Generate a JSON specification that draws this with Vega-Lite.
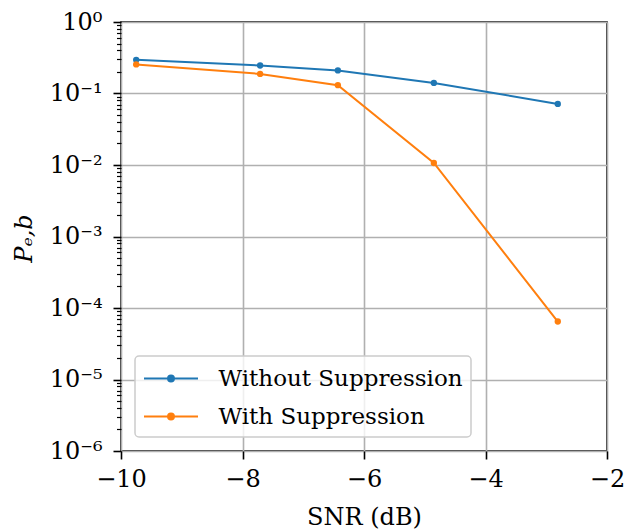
{
  "$schema": "https://vega.github.io/schema/vega-lite/v6.json",
  "width": 486,
  "height": 429,
  "autosize": "none",
  "padding": {"left": 121, "top": 22, "right": 18, "bottom": 80},
  "background": "white",
  "config": {
    "font": "DejaVu Serif",
    "view": {"stroke": "black", "strokeWidth": 1.6},
    "axis": {
      "domain": false,
      "labelFlush": false,
      "labelFont": "DejaVu Serif",
      "labelFontSize": 24,
      "labelColor": "black",
      "titleFont": "DejaVu Serif",
      "titleFontSize": 24,
      "titleFontWeight": "normal",
      "titleColor": "black",
      "gridColor": "#b0b0b0",
      "gridWidth": 1.6,
      "tickColor": "black",
      "tickWidth": 1.6,
      "tickSize": 8
    },
    "legend": {
      "labelFont": "DejaVu Serif",
      "labelFontSize": 23,
      "labelColor": "black",
      "labelLimit": 500
    }
  },
  "data": {
    "values": [
      {"snr": -9.75, "pe": 0.2956, "series": "Without Suppression"},
      {"snr": -7.71, "pe": 0.2466, "series": "Without Suppression"},
      {"snr": -6.43, "pe": 0.21, "series": "Without Suppression"},
      {"snr": -4.85, "pe": 0.1407, "series": "Without Suppression"},
      {"snr": -2.81, "pe": 0.0715, "series": "Without Suppression"},
      {"snr": -9.75, "pe": 0.2548, "series": "With Suppression"},
      {"snr": -7.71, "pe": 0.188, "series": "With Suppression"},
      {"snr": -6.43, "pe": 0.1306, "series": "With Suppression"},
      {"snr": -4.85, "pe": 0.01067, "series": "With Suppression"},
      {"snr": -2.81, "pe": 0.0000647, "series": "With Suppression"}
    ]
  },
  "mark": {"type": "line", "strokeWidth": 2, "point": {"filled": true, "size": 40}},
  "encoding": {
    "x": {
      "field": "snr",
      "type": "quantitative",
      "scale": {"domain": [-10, -2], "nice": false, "zero": false},
      "axis": {
        "values": [-10, -8, -6, -4, -2],
        "title": "SNR (dB)",
        "labelPadding": 8,
        "titleBaseline": "alphabetic",
        "titleY": 73
      }
    },
    "y": {
      "field": "pe",
      "type": "quantitative",
      "scale": {"type": "log", "domain": [0.000001, 1], "nice": false},
      "axis": {
        "values": [0.000001, 0.000002, 0.000003, 0.000004, 0.000005, 0.000006, 0.000007, 0.000008, 0.000009,
                   0.00001, 0.00002, 0.00003, 0.00004, 0.00005, 0.00006, 0.00007, 0.00008, 0.00009,
                   0.0001, 0.0002, 0.0003, 0.0004, 0.0005, 0.0006, 0.0007, 0.0008, 0.0009,
                   0.001, 0.002, 0.003, 0.004, 0.005, 0.006, 0.007, 0.008, 0.009,
                   0.01, 0.02, 0.03, 0.04, 0.05, 0.06, 0.07, 0.08, 0.09,
                   0.1, 0.2, 0.3, 0.4, 0.5, 0.6, 0.7, 0.8, 0.9, 1],
        "labelExpr": "abs(log(datum.value)/LN10 - round(log(datum.value)/LN10)) > 0.001 ? '' : datum.value > 0.5 ? '10⁰' : datum.value > 0.05 ? '10⁻¹' : datum.value > 0.005 ? '10⁻²' : datum.value > 0.0005 ? '10⁻³' : datum.value > 0.00005 ? '10⁻⁴' : datum.value > 0.000005 ? '10⁻⁵' : '10⁻⁶'",
        "tickSize": {"condition": {"test": "abs(log(datum.value)/LN10 - round(log(datum.value)/LN10)) < 0.001", "value": 8}, "value": 4.5},
        "tickWidth": {"condition": {"test": "abs(log(datum.value)/LN10 - round(log(datum.value)/LN10)) < 0.001", "value": 1.6}, "value": 1.2},
        "gridOpacity": {"condition": {"test": "abs(log(datum.value)/LN10 - round(log(datum.value)/LN10)) < 0.001", "value": 1}, "value": 0},
        "labelPadding": 11,
        "title": "Pₑ,b",
        "titleFontStyle": "italic",
        "titleAngle": -90,
        "titleX": -90,
        "titleY": 216,
        "titleAlign": "center",
        "titleBaseline": "alphabetic"
      }
    },
    "color": {
      "field": "series",
      "type": "nominal",
      "scale": {"domain": ["Without Suppression", "With Suppression"], "range": ["#1f77b4", "#ff7f0e"]},
      "legend": {
        "title": null,
        "orient": "none",
        "legendX": 14,
        "legendY": 334,
        "symbolType": "M-2,0L2,0M-0.22,0A0.22,0.22 0 1,0 0.22,0A0.22,0.22 0 1,0 -0.22,0Z",
        "symbolSize": 729,
        "symbolOffset": 13.5,
        "symbolStrokeWidth": 2,
        "labelOffset": 33,
        "padding": 8,
        "rowPadding": 11,
        "fillColor": "rgba(255,255,255,0.8)",
        "strokeColor": "#cccccc",
        "cornerRadius": 4,
        "encode": {
          "legend": {"update": {"strokeWidth": {"value": 1.5}}},
          "symbols": {
            "update": {
              "fill": {"scale": "color", "field": "value"},
              "stroke": {"scale": "color", "field": "value"}
            }
          }
        }
      }
    }
  }
}
